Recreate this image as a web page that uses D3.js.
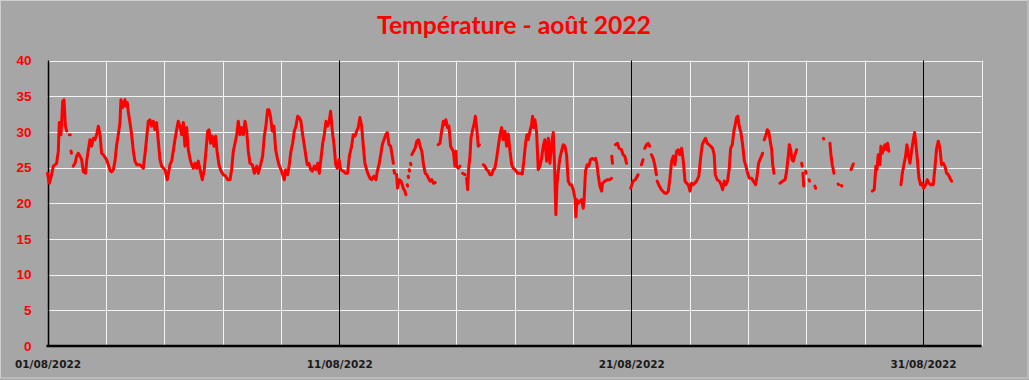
<!DOCTYPE html>
<html><head><meta charset="utf-8">
<script src="https://cdn.jsdelivr.net/npm/d3@7"></script>
<style>html,body{margin:0;padding:0;background:#a6a6a6;} svg{display:block}</style>
</head><body><svg id="c" width="1029" height="380"></svg>
<script>
const title = "Température - août 2022";
const yTicks = [0, 5, 10, 15, 20, 25, 30, 35, 40];
const xLabelDates = ["2022-08-01", "2022-08-11", "2022-08-21", "2022-08-31"];
const xLabels = ["01/08/2022", "11/08/2022", "21/08/2022", "31/08/2022"];
const startDate = "2022-08-01";
const endDate = "2022-09-02";
// [hours since 01/08/2022 00:00, temperature °C]; null = no data (gap)
const readings = [
[0,24.2],[1.5,22.8],[3.4,24.0],[4.8,25.2],[7.5,25.6],[8.9,27.3],[9.7,31.3],[11.1,29.6],[12.5,34.3],[13.6,34.5],[14.7,30.8],[15.8,30.1],null,
[17.9,29.6],[18.8,29.6],null,[19.3,27.3],[19.7,27.0],null,
[21.2,25.2],[22.6,25.6],[24.0,26.6],[25.3,27.0],[26.7,26.6],[28.1,26.1],[29.5,24.4],[31.4,24.2],[32.2,25.9],[33.6,27.5],[34.9,28.9],[36.3,28.0],[37.7,29.1],[39.0,28.9],[40.4,29.6],[41.8,30.8],[43.2,29.6],[44.5,27.0],[45.9,26.8],[48.6,26.1],[50.0,25.4],[51.4,24.6],[52.7,24.4],[54.1,24.7],[55.5,25.9],[56.9,28.2],[58.2,29.6],[59.6,31.3],[60.4,34.5],[61.8,33.4],[63.7,34.5],[64.5,33.6],[65.6,34.1],[66.5,32.7],[67.8,31.3],[69.2,29.6],[70.6,27.3],[71.9,25.9],[73.3,25.4],[76.0,25.4],[78.8,24.9],[80.1,26.8],[81.5,29.1],[82.9,31.5],[84.2,31.7],[85.6,30.8],[87.0,31.5],[88.4,30.3],[89.7,31.3],[91.1,28.7],[92.5,26.1],[93.8,25.2],[96.6,24.7],[98.5,23.3],[100.7,25.4],[102.1,25.9],[103.4,27.3],[104.8,28.9],[106.2,30.3],[107.5,31.5],[108.9,30.8],[110.3,29.6],[111.7,31.3],[113.0,28.0],[114.4,30.6],[115.8,27.5],[117.1,26.3],[118.5,25.4],[119.9,24.9],[121.2,25.6],[122.6,24.9],[124.0,25.9],[125.4,24.7],
[127.3,23.3],[128.9,24.7],[130.3,27.3],[131.7,30.1],[132.8,30.3],[134.1,28.4],[135.5,29.4],[136.9,28.0],[138.3,29.4],[139.4,27.3],[141.0,25.4],[142.7,24.5],[144.6,24.0],[146.5,23.8],[148.2,23.3],[150.1,23.3],[151.4,24.7],[152.8,27.3],[154.2,28.4],[155.6,29.6],[156.9,31.5],[158.3,29.6],[159.7,30.6],[161.0,29.6],[162.4,31.5],[163.8,30.1],[165.1,27.3],[166.5,25.6],[168.4,25.4],[170.1,24.2],[172.0,25.2],[173.3,24.2],[175.5,25.6],[176.9,26.6],[178.3,29.4],[179.7,31.0],[181.0,33.1],[182.1,33.1],[183.5,32.0],[184.8,30.1],[186.2,30.8],[187.6,27.5],[189.0,26.3],[190.3,25.4],[192.0,24.7],[193.4,24.0],[194.7,23.3],[195.8,24.7],[197.5,24.0],[198.8,25.4],[200.2,27.3],[201.6,28.4],[202.9,30.1],[204.3,30.8],[205.7,32.2],[207.0,32.0],[208.4,31.5],[209.5,29.9],[210.9,28.4],[212.3,26.8],[213.6,25.4],[215.0,25.6],[216.4,24.7],[217.7,24.5],[219.4,25.2],[220.8,24.7],[222.2,25.6],[223.5,24.2],[224.9,26.3],[226.3,28.4],[227.6,29.6],[229.0,31.5],[230.4,30.8],[231.7,31.5],[232.8,32.9],[234.2,30.1],[235.6,28.2],[237.0,25.4],[238.3,24.9],[239.7,26.1],[241.1,24.7],[243.2,24.5],[245.2,24.2],[246.8,24.2],[248.2,26.6],[250.1,28.0],[251.4,29.6],[252.8,29.4],[254.2,30.1],[255.5,30.6],[256.9,32.0],[258.3,30.8],[259.7,28.0],[261.0,25.6],[262.4,24.7],[263.8,24.0],[265.2,23.5],[266.5,23.3],[268.5,23.8],[270.1,23.3],[271.2,24.5],[272.6,25.4],[274.0,26.8],[275.3,28.2],[276.7,28.9],[278.1,29.6],[279.4,29.9],[280.8,28.2],[282.2,28.0],[283.5,26.6],[284.4,25.6],null,
[284.9,24.6],[285.5,24.2],null,[287.1,24.0],[287.8,22.1],[289.2,23.3],[290.6,23.1],[291.7,22.6],[292.5,22.1],[293.9,21.7],[294.7,21.2],null,
[295.8,22.6],[296.1,22.4],null,[296.6,23.8],[296.9,23.6],null,[297.4,24.7],[297.7,24.5],null,[298.5,25.6],[298.8,25.4],null,
[299.6,26.8],[301.0,27.3],[302.3,27.7],[303.7,28.7],[305.1,28.9],[306.4,28.0],[307.8,27.3],[309.2,25.4],[310.6,24.2],[311.9,24.0],[313.3,23.5],[314.7,23.1],[316.0,23.3],[317.4,22.8],[318.8,22.9],null,
[321.3,28.2],[322.7,28.4],[324.1,30.1],[325.5,31.5],[326.8,31.0],[327.6,31.7],[329.0,30.6],[330.1,30.8],[331.5,28.0],[332.3,27.7],[333.7,27.3],[335.0,25.2],[335.9,27.3],[336.4,25.2],[337.8,24.9],[339.2,25.2],null,
[341.4,24.2],[343.3,24.0],null,
[344.6,23.5],[345.5,21.9],[346.3,24.9],[347.4,26.6],[348.2,29.1],[349.6,30.3],[350.7,31.0],[351.8,32.2],[352.9,30.6],[354.2,28.0],[355.1,28.2],null,
[358.4,25.4],[359.7,25.2],[361.1,24.7],[362.5,24.5],[363.8,24.0],[365.2,24.0],[366.6,24.7],[367.9,24.9],[369.3,26.3],[370.7,28.0],[372.1,29.6],[373.4,30.6],[374.8,28.9],[376.2,30.1],[377.5,28.0],[378.9,29.7],[380.3,27.3],[381.7,25.4],[383.0,24.9],[384.4,24.7],[386.6,24.2],[388.5,24.2],[390.4,24.1],[391.7,25.9],[393.1,28.4],[394.2,29.6],[395.3,28.9],[396.7,30.1],[398.0,31.0],[398.9,32.2],[399.7,30.6],[400.8,31.7],[402.2,29.9],[403.5,24.7],[404.9,25.2],[406.3,26.3],[407.6,28.0],[409.0,28.9],[410.4,25.9],[411.8,29.1],[413.1,25.6],[414.5,28.4],[415.9,29.9],[417.2,24.0],[418.0,18.4],[418.9,22.6],[420.0,24.5],[421.3,26.3],[422.7,27.3],[424.1,28.2],[425.5,28.0],[426.8,26.8],[428.2,23.1],[429.6,22.6],[430.9,22.6],[432.3,21.9],[433.7,20.7],[434.5,18.1],[435.3,20.5],[436.4,20.0],[437.8,20.3],[439.1,20.5],[440.5,19.3],[441.3,20.7],[442.4,24.5],[443.8,25.4],[445.1,25.2],[446.5,26.1],[447.9,26.3],[449.3,26.1],[450.6,26.3],[451.7,25.6],[452.8,24.0],[454.2,22.4],[455.6,21.7],[456.4,22.8],[458.3,23.1],[460.5,23.3],[462.4,23.3],[463.8,23.5],null,
[464.0,26.6],[464.6,25.6],null,
[467.0,28.2],[468.7,28.4],[470.0,27.7],[472.0,27.5],[473.3,26.8],[474.7,26.6],[476.1,25.6],null,
[479.6,22.1],[481.5,23.1],[483.4,23.3],[485.6,24.0],null,
[488.4,25.4],[489.7,26.1],null,
[491.1,27.7],[492.5,28.2],[493.9,28.4],[495.2,28.0],null,
[496.6,26.8],[498.0,26.3],[499.3,25.4],[500.7,24.0],null,
[501.3,23.1],[502.6,22.6],[504.8,21.9],[507.6,21.4],[509.1,21.4],[510.5,21.7],[511.8,23.5],[513.2,25.9],[514.6,26.6],[515.9,25.4],[517.3,27.3],[518.7,27.5],[520.0,26.8],[521.4,27.7],[522.8,25.9],[524.2,23.1],[525.5,22.8],[526.9,22.6],[528.3,21.7],[529.6,22.8],[531.0,22.6],[533.7,23.1],[535.6,23.8],[537.0,26.3],[538.4,28.2],[539.7,28.7],[541.1,29.1],[542.5,28.4],[543.9,28.2],[545.2,28.0],[546.9,27.7],[548.2,26.8],[549.1,24.0],[550.7,23.3],[552.4,23.1],[554.0,22.6],[555.1,21.9],[556.5,23.1],[557.9,22.6],[559.2,23.1],[560.6,24.9],[561.7,27.7],[563.1,28.2],[564.4,30.1],[565.5,31.0],[566.6,32.0],[567.7,32.2],[568.8,30.8],[570.2,29.9],[571.6,28.2],[573.0,25.9],[574.3,25.2],[575.7,24.2],[577.1,23.5],[579.0,23.5],[580.4,23.1],[582.3,22.6],[583.6,24.0],[584.7,25.6],[585.8,26.1],[587.2,26.6],[588.0,27.0],null,
[589.4,28.9],[590.8,29.6],[591.9,30.3],[593.0,30.1],[594.1,28.9],[595.5,27.5],[596.3,25.4],[597.4,24.2],null,
[602.3,22.8],[604.5,23.1],[606.5,23.3],[607.8,24.5],[609.2,26.8],[610.0,28.2],[611.1,27.5],[612.2,26.1],[613.3,25.9],[614.7,26.8],[616.0,27.5],null,
[620.1,25.6],[620.6,25.2],null,[621.2,24.2],[621.8,22.4],null,[623.4,24.5],[623.8,24.2],null,[626.2,23.3],[626.6,23.1],null,[631.0,22.4],[631.6,22.1],null,
[638.0,29.1],[638.3,29.0],null,
[643.4,28.4],[644.2,26.8],[645.3,25.4],[646.7,24.2],null,
[650.1,22.7],[650.5,22.6],null,[652.8,22.5],[653.2,22.4],null,
[660.7,24.7],[662.6,25.5],null,
[678.2,21.7],[679.8,21.9],[680.4,23.3],[681.2,25.2],[682.0,24.7],[683.1,26.8],[684.5,25.4],[685.3,28.0],[686.4,27.0],[687.5,27.5],[688.6,28.2],[690.0,27.5],[690.8,28.4],[691.9,27.3],null,
[701.8,22.6],[702.9,24.2],[704.2,25.4],[705.6,26.6],[706.7,28.2],[707.8,26.8],[709.2,25.6],[710.5,27.3],[711.9,28.9],[713.0,29.9],[714.1,28.2],[715.2,26.3],[716.6,23.5],[717.9,22.6],[719.3,22.8],[720.4,22.1],[722.0,22.6],[723.4,23.3],[724.8,22.8],[726.4,22.6],[728.3,22.6],[729.7,24.9],[731.1,27.7],[732.5,28.7],[733.8,27.7],[735.2,25.4],[736.6,25.6],[737.9,25.2],[739.3,24.2],[740.7,24.0],[742.1,23.5],[743.4,23.1]
];

const svg = d3.select("#c");
const t0 = new Date(startDate + "T00:00:00Z");
const t1 = new Date(endDate + "T00:00:00Z");
const x = d3.scaleUtc().domain([t0, t1]).range([47.5, 981.5]);
const y = d3.scaleLinear().domain([0, 40]).range([346, 60.5]);

svg.append("rect").attr("x", 0.5).attr("y", 0.5).attr("width", 1027.5).attr("height", 377.5)
  .attr("fill", "#a6a6a6").attr("stroke", "#cfcfcf").attr("stroke-width", 1);

// horizontal grid
svg.append("g").selectAll("line").data(yTicks.filter(v => v > 0)).join("line")
  .attr("x1", x(t0)).attr("x2", x(t1))
  .attr("y1", d => Math.round(y(d)) + 0.5).attr("y2", d => Math.round(y(d)) + 0.5)
  .attr("stroke", "#f4f4f4").attr("stroke-width", 1);

// vertical grid every 2 days, black every 10 days
const gridDays = d3.utcDay.range(t0, d3.utcDay.offset(t1, 1), 1).filter((d, i) => i % 2 === 0);
svg.append("g").selectAll("line").data(gridDays).join("line")
  .attr("x1", d => Math.round(x(d)) + 0.5).attr("x2", d => Math.round(x(d)) + 0.5)
  .attr("y1", y(40)).attr("y2", y(0))
  .attr("stroke", (d, i) => (i * 2) % 10 === 0 ? "#000" : "#f4f4f4")
  .attr("stroke-width", (d, i) => i === 0 ? 1.5 : 1);

// x baseline
svg.append("line").attr("x1", x(t0) - 1).attr("x2", x(t1)).attr("y1", y(0)).attr("y2", y(0))
  .attr("stroke", "#000").attr("stroke-width", 2.5);

// temperature line
const pts = readings.map(r => r ? { t: new Date(t0.getTime() + r[0] * 3600e3), v: r[1] } : null);
const line = d3.line().defined(d => d !== null).x(d => x(d.t)).y(d => y(d.v));
svg.append("path").datum(pts).attr("d", line)
  .attr("fill", "none").attr("stroke", "#ff0000").attr("stroke-width", 3)
  .attr("stroke-linejoin", "round").attr("stroke-linecap", "round");

// y axis labels
const yAxis = svg.append("g").attr("transform", `translate(${x(t0)},0)`)
  .call(d3.axisLeft(y).tickValues(yTicks).tickSize(0).tickPadding(16));
yAxis.select(".domain").remove();
yAxis.selectAll("text").attr("fill", "#ff0000")
  .style("font-family", "'Liberation Sans', Arial, sans-serif").style("font-weight", "bold").style("font-size", "13.5px");

// x axis labels
const xAxis = svg.append("g").attr("transform", `translate(0,${y(0)})`)
  .call(d3.axisBottom(x).tickValues(xLabelDates.map(s => new Date(s + "T00:00:00Z")))
    .tickFormat((d, i) => xLabels[i]).tickSize(0).tickPadding(14.5));
xAxis.select(".domain").remove();
xAxis.selectAll("text").attr("fill", "#1a1a1a")
  .style("font-family", "'DejaVu Sans', sans-serif").style("font-weight", "bold").style("font-size", "10.5px");

// title
const tt = svg.append("text").attr("x", 514).attr("y", 34).attr("text-anchor", "middle")
  .attr("fill", "#ff0000").style("font-family", "Lato, 'Open Sans', sans-serif").style("font-weight", "bold")
  .style("font-size", "23px").text(title);
const w = tt.node().getComputedTextLength();
if (w > 0) tt.style("font-size", (23 * 274 / w).toFixed(2) + "px");
</script></body></html>
